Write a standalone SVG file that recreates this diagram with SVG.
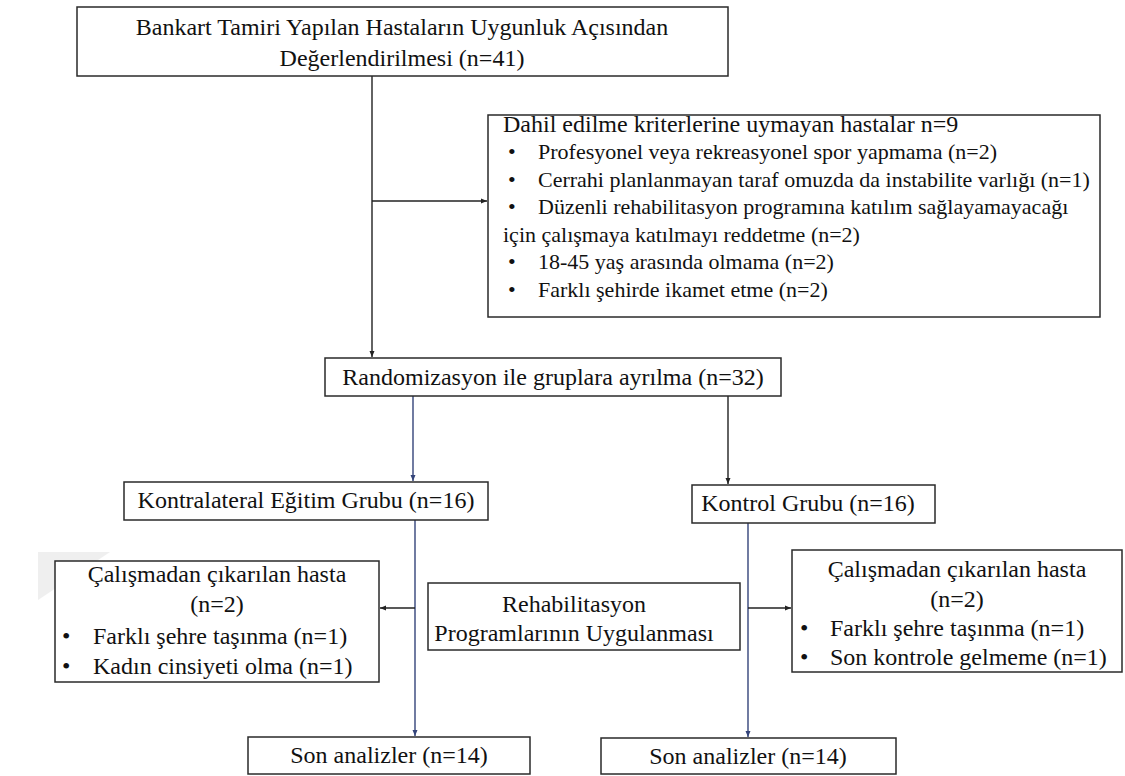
<svg xmlns="http://www.w3.org/2000/svg" width="1125" height="776" viewBox="0 0 1125 776">
<defs>
<style>
.box{fill:#fff;stroke:#2a2a2a;stroke-width:1.5}
text{font-family:'Liberation Serif','Times New Roman',serif;fill:#111}
.t{font-size:24px}
.s{font-size:22px}
.c{text-anchor:middle}
.ln{fill:none;stroke:#222;stroke-width:1.4}
.lb{fill:none;stroke:#34447a;stroke-width:1.4}
</style>
<marker id="ah" markerWidth="7" markerHeight="6" refX="6" refY="3" orient="auto" markerUnits="userSpaceOnUse">
<path d="M0,0.5 L6,3 L0,5.5 z" fill="#222"/>
</marker>
<marker id="ahb" markerWidth="7" markerHeight="6" refX="6" refY="3" orient="auto" markerUnits="userSpaceOnUse">
<path d="M0,0.5 L6,3 L0,5.5 z" fill="#34447a"/>
</marker>
</defs>
<rect width="1125" height="776" fill="#fff"/>
<polygon points="38,552 110,552 38,600" fill="#efefef"/>

<g id="connectors">
<path class="ln" d="M372,76 V357" marker-end="url(#ah)"/>
<path class="ln" d="M372,201 H487" marker-end="url(#ah)"/>
<path class="lb" d="M413,396 V481" marker-end="url(#ahb)"/>
<path class="ln" d="M728,396 V484" marker-end="url(#ah)"/>
<path class="lb" d="M415,520 V736" marker-end="url(#ahb)"/>
<path class="ln" d="M415,608 H380" marker-end="url(#ah)"/>
<path class="lb" d="M748,523 V737" marker-end="url(#ahb)"/>
<path class="ln" d="M748,608 H791" marker-end="url(#ah)"/>
</g>

<g id="n_top">
<rect class="box" x="77" y="7" width="651" height="69"/>
<text class="t c" x="402" y="35">Bankart Tamiri Yapılan Hastaların Uygunluk Açısından</text>
<text class="t c" x="402" y="66">Değerlendirilmesi (n=41)</text>
</g>

<g id="n_exclude">
<rect class="box" x="488" y="115" width="612" height="202"/>
<text class="t" x="503" y="132">Dahil edilme kriterlerine uymayan hastalar n=9</text>
<text class="s" x="508" y="159">•</text>
<text class="s" x="538" y="159">Profesyonel veya rekreasyonel spor yapmama (n=2)</text>
<text class="s" x="508" y="187">•</text>
<text class="s" x="538" y="187">Cerrahi planlanmayan taraf omuzda da instabilite varlığı (n=1)</text>
<text class="s" x="508" y="214">•</text>
<text class="s" x="538" y="214">Düzenli rehabilitasyon programına katılım sağlayamayacağı</text>
<text class="s" x="503" y="242" font-size="23">için çalışmaya katılmayı reddetme (n=2)</text>
<text class="s" x="508" y="269">•</text>
<text class="s" x="538" y="269">18-45 yaş arasında olmama (n=2)</text>
<text class="s" x="508" y="297">•</text>
<text class="s" x="538" y="297">Farklı şehirde ikamet etme (n=2)</text>
</g>

<g id="n_random">
<rect class="box" x="325" y="358" width="456" height="38"/>
<text class="t c" x="553" y="385">Randomizasyon ile gruplara ayrılma (n=32)</text>
</g>

<g id="n_kontra">
<rect class="box" x="124" y="482" width="364" height="38"/>
<text class="t c" x="306" y="508">Kontralateral Eğitim Grubu (n=16)</text>
</g>

<g id="n_kontrol">
<rect class="box" x="692" y="485" width="243" height="38"/>
<text class="t c" x="808" y="511">Kontrol Grubu (n=16)</text>
</g>

<g id="n_exleft">
<rect class="box" x="55" y="561" width="324" height="121"/>
<text class="t c" x="217" y="582">Çalışmadan çıkarılan hasta</text>
<text class="t c" x="217" y="612">(n=2)</text>
<text class="t" x="62" y="644">•</text>
<text class="t" x="93" y="644">Farklı şehre taşınma (n=1)</text>
<text class="t" x="62" y="674">•</text>
<text class="t" x="93" y="674">Kadın cinsiyeti olma (n=1)</text>
</g>

<g id="n_rehab">
<rect class="box" x="428" y="583" width="312" height="67"/>
<text class="t c" x="574" y="612">Rehabilitasyon</text>
<text class="t c" x="574" y="641">Programlarının Uygulanması</text>
</g>

<g id="n_exright">
<rect class="box" x="792" y="550" width="330" height="122"/>
<text class="t c" x="957" y="577">Çalışmadan çıkarılan hasta</text>
<text class="t c" x="957" y="607">(n=2)</text>
<text class="t" x="800" y="636">•</text>
<text class="t" x="830" y="636">Farklı şehre taşınma (n=1)</text>
<text class="t" x="800" y="665">•</text>
<text class="t" x="830" y="665">Son kontrole gelmeme (n=1)</text>
</g>

<g id="n_sonleft">
<rect class="box" x="248" y="737" width="282" height="37"/>
<text class="t c" x="389" y="763">Son analizler (n=14)</text>
</g>

<g id="n_sonright">
<rect class="box" x="601" y="738" width="295" height="36"/>
<text class="t c" x="748" y="764">Son analizler (n=14)</text>
</g>
</svg>
